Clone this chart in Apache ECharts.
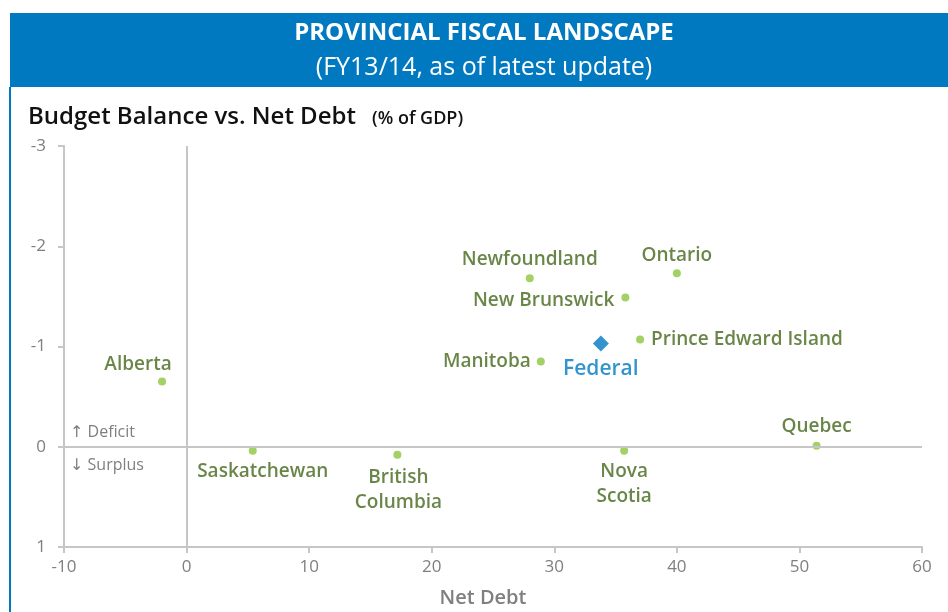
<!DOCTYPE html>
<html>
<head>
<meta charset="utf-8">
<script src="https://cdn.jsdelivr.net/npm/echarts@6/dist/echarts.min.js"></script>
<style>
html,body{margin:0;padding:0;background:#fff;}
#chart{width:948px;height:612px;}
</style>
</head>
<body>
<div id="chart"></div>
<script>
// ---- data ----
const provinces = ['Alberta','Saskatchewan','British\nColumbia','Newfoundland','Ontario','New Brunswick','Prince Edward Island','Manitoba','Nova\nScotia','Quebec'];
const netDebt = [-2.0, 5.4, 17.2, 28.0, 40.0, 35.8, 37.0, 28.9, 35.7, 51.4];
const budgetBalance = [-0.65, 0.04, 0.08, -1.68, -1.73, -1.49, -1.07, -0.85, 0.04, -0.01];
const federalName = 'Federal';
const federalNetDebt = [33.8];
const federalBalance = [-1.03];
const xTicks = [-10, 0, 10, 20, 30, 40, 50, 60];
const yTicks = [-3, -2, -1, 0, 1];

// ---- label placement (style) ----
const labelPlacement = {
  'Alberta': {position: 'top', offset: [-24, 5]},
  'Saskatchewan': {position: 'bottom', offset: [10, -1]},
  'British\nColumbia': {position: 'bottom', offset: [1, 1]},
  'Newfoundland': {position: 'top', offset: [0, 3]},
  'Ontario': {position: 'top', offset: [0, 4]},
  'New Brunswick': {position: 'left', offset: [-2, 3]},
  'Prince Edward Island': {position: 'right', offset: [2, 0]},
  'Manitoba': {position: 'left', offset: [-1, 0]},
  'Nova\nScotia': {position: 'bottom', offset: [0, -1]},
  'Quebec': {position: 'top', offset: [0, 2]}
};

const FONT = '"Open Sans", "DejaVu Sans", sans-serif';
const GREEN_TEXT = '#44681a';
const GREEN_DOT = '#8cc63f';
const BLUE = '#0079c1';
const GRAY = '#7f7f7f';
const LINE = '#c6c6c6';

const provinceData = provinces.map((n, i) => ({
  name: n,
  value: [netDebt[i], budgetBalance[i]],
  label: Object.assign({show: true}, labelPlacement[n])
}));

const chart = echarts.init(document.getElementById('chart'), null, {renderer: 'canvas'});
chart.setOption({
  animation: false,
  backgroundColor: '#fff',
  grid: {left: 64, right: 26, top: 146, bottom: 65, containLabel: false},
  xAxis: {
    type: 'value', min: xTicks[0], max: xTicks[xTicks.length - 1], interval: 10,
    axisLine: {onZero: false, lineStyle: {color: LINE, width: 2}},
    axisTick: {show: true, length: 6, lineStyle: {color: LINE, width: 2}},
    axisLabel: {color: GRAY, fontFamily: FONT, fontSize: 17, margin: 12},
    splitLine: {show: false}
  },
  yAxis: {
    type: 'value', inverse: true, min: yTicks[0], max: yTicks[yTicks.length - 1], interval: 1,
    axisLine: {show: true, onZero: false, lineStyle: {color: LINE, width: 2}},
    axisTick: {show: true, length: 6, lineStyle: {color: LINE, width: 2}},
    axisLabel: {color: GRAY, fontFamily: FONT, fontSize: 17, margin: 18},
    splitLine: {show: false}
  },
  series: [
    {
      type: 'scatter',
      symbol: 'circle',
      symbolSize: 8,
      itemStyle: {color: GREEN_DOT},
      label: {
        color: GREEN_TEXT, fontFamily: FONT, fontSize: 19, fontWeight: 600,
        lineHeight: 25, formatter: p => p.name
      },
      data: provinceData,
      markLine: {
        silent: true, symbol: 'none',
        lineStyle: {color: LINE, width: 2, type: 'solid'},
        label: {show: false},
        data: [{xAxis: 0}, {yAxis: 0}]
      },
      z: 3
    },
    {
      type: 'scatter',
      symbol: 'diamond',
      symbolSize: [16, 16],
      itemStyle: {color: BLUE},
      label: {
        show: true, position: 'bottom', offset: [0, 2],
        color: BLUE, fontFamily: FONT, fontSize: 21, fontWeight: 600,
        formatter: p => p.name
      },
      data: [{name: federalName, value: [federalNetDebt[0], federalBalance[0]]}],
      z: 4
    }
  ],
  graphic: [
    {type: 'rect', left: 10, top: 13, shape: {width: 938, height: 74}, style: {fill: BLUE}, z: -1},
    {type: 'rect', left: 9, top: 87, shape: {width: 2, height: 525}, style: {fill: BLUE}},
    {type: 'text', x: 484, y: 33, style: {text: 'PROVINCIAL FISCAL LANDSCAPE', fill: '#fff', font: 'bold 24px ' + FONT, align: 'center', verticalAlign: 'middle'}},
    {type: 'text', x: 484, y: 68, style: {text: '(FY13/14, as of latest update)', fill: '#fff', font: '25px ' + FONT, align: 'center', verticalAlign: 'middle'}},
    {type: 'text', x: 28, y: 117, style: {text: 'Budget Balance vs. Net Debt', fill: '#111', font: '600 24px ' + FONT, verticalAlign: 'middle'}},
    {type: 'text', x: 372, y: 119, style: {text: '(% of GDP)', fill: '#111', font: '600 18px ' + FONT, verticalAlign: 'middle'}},
    {type: 'text', x: 70, y: 432, style: {text: '\u2191 Deficit', fill: GRAY, font: '16px ' + FONT, verticalAlign: 'middle'}},
    {type: 'text', x: 70, y: 465, style: {text: '\u2193 Surplus', fill: GRAY, font: '16px ' + FONT, verticalAlign: 'middle'}},
    {type: 'text', x: 483, y: 598, style: {text: 'Net Debt', fill: GRAY, font: '600 20px ' + FONT, align: 'center', verticalAlign: 'middle'}}
  ]
});
</script>
</body>
</html>
